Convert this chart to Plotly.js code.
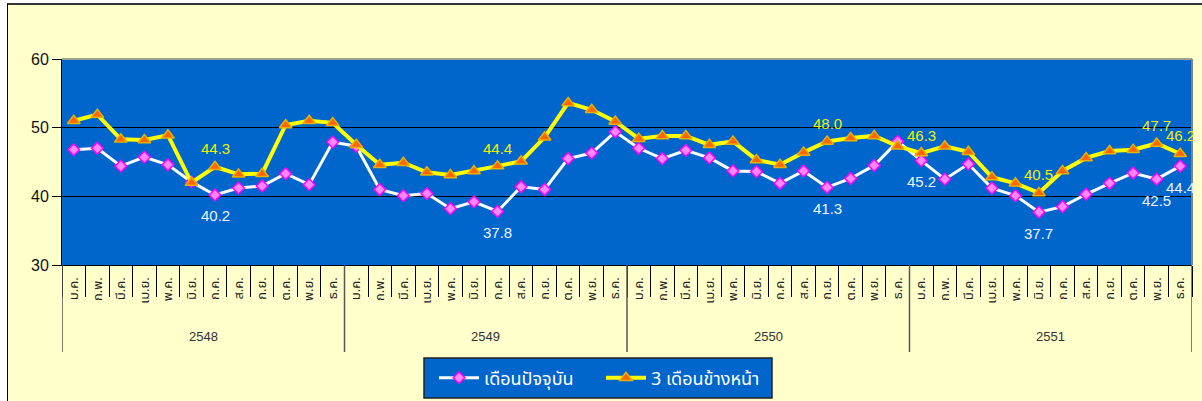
<!DOCTYPE html>
<html><head><meta charset="utf-8">
<script src="https://cdn.plot.ly/plotly-3.0.1.min.js"></script>
<style>
html,body{margin:0;padding:0;background:#fff;overflow:hidden;width:1202px;height:401px;}
#frame{position:absolute;left:7px;top:3px;width:1195px;height:398px;border-left:1px solid #000;border-top:2px solid #333;background:#FFFFCC;box-sizing:border-box;}
#chart{position:absolute;left:0;top:0;width:1194px;height:396px;}
</style></head>
<body>
<div id="frame"><div id="chart"></div></div>
<script>
const months = ['ม.ค.','ก.พ.','มี.ค.','เม.ย.','พ.ค.','มิ.ย.','ก.ค.','ส.ค.','ก.ย.','ต.ค.','พ.ย.','ธ.ค.'];
const years = ['2548','2549','2550','2551'];
const seriesNames = ['เดือนปัจจุบัน','3 เดือนข้างหน้า'];
const current = [46.8,47.0,44.4,45.7,44.6,42.1,40.2,41.2,41.5,43.3,41.7,47.9,
                 47.3,41.0,40.1,40.4,38.2,39.2,37.8,41.4,41.0,45.5,46.3,49.4,
                 47.0,45.5,46.7,45.6,43.7,43.6,41.9,43.7,41.3,42.6,44.5,48.0,
                 45.2,42.5,44.7,41.2,40.1,37.7,38.5,40.3,41.9,43.4,42.5,44.4];
const ahead   = [51.0,51.9,48.3,48.2,48.9,42.0,44.3,43.2,43.3,50.4,51.0,50.7,
                 47.5,44.6,44.9,43.5,43.1,43.7,44.4,45.1,48.6,53.6,52.6,50.9,
                 48.4,48.8,48.8,47.5,48.0,45.3,44.6,46.4,48.0,48.5,48.8,47.3,
                 46.3,47.3,46.5,42.8,41.9,40.5,43.7,45.6,46.6,46.8,47.7,46.2];
const labeledIdx = [6,18,32,36,41,46,47];

const monthLabels = years.flatMap(() => months);
const xs = monthLabels.map((_, i) => i);
const n = xs.length;
const perYear = months.length;

const thaiFont = "Tahoma, 'Noto Sans Thai', 'Leelawadee UI', 'Noto Sans', sans-serif";
const latinFont = "Arial, 'Liberation Sans', sans-serif";

// chart div sits at window (8, 5); plot area window x 62..1192, y 59..265
const L = 54, T = 54, PW = 1130, PH = 206;
const px = wx => (wx - 8 - L) / PW;
const py = wy => 1 - (wy - 5 - T) / PH;

const traces = [
  {x: xs, y: current, name: seriesNames[0], type: 'scatter', mode: 'lines+markers',
   line: {color: '#FFFFFF', width: 3},
   marker: {symbol: 'diamond', size: 9, color: '#FF88FF', line: {color: '#FF00FF', width: 1.5}},
   cliponaxis: false},
  {x: xs, y: ahead, name: seriesNames[1], type: 'scatter', mode: 'lines+markers',
   line: {color: '#FFFF00', width: 4},
   marker: {symbol: 'triangle-up', size: 11, color: '#FF6600', line: {color: '#E8B000', width: 1.5}},
   cliponaxis: false}
];

const shapes = [];
for (let k = 0; k <= years.length; k++) {
  shapes.push({type: 'line', xref: 'x', yref: 'paper', x0: k*perYear - 0.5, x1: k*perYear - 0.5,
               y0: 0, y1: py(352), line: {color: '#555', width: 1.5}});
}
shapes.push({type: 'line', xref: 'paper', yref: 'paper', x0: 0, x1: 1, y0: 1, y1: 1,
             line: {color: '#A0A090', width: 2}, layer: 'above'});
shapes.push({type: 'line', xref: 'paper', yref: 'paper', x0: 1, x1: 1, y0: 0, y1: 1,
             line: {color: '#808080', width: 2}, layer: 'above'});
shapes.push({type: 'rect', xref: 'paper', yref: 'paper', x0: px(424), x1: px(772), y0: py(358), y1: py(398),
             fillcolor: '#0066CC', line: {color: '#222', width: 1.5}, layer: 'above'});

const annotations = [];
years.forEach((yr, k) => {
  annotations.push({x: k*perYear + (perYear-1)/2, y: py(336), xref: 'x', yref: 'paper', yanchor: 'middle',
    text: yr, showarrow: false, font: {family: latinFont, size: 13, color: '#333'}});
});
labeledIdx.forEach(i => {
  annotations.push({x: xs[i], y: current[i], xref: 'x', yref: 'y', text: current[i].toFixed(1),
    showarrow: false, yshift: -21, font: {family: latinFont, size: 15, color: '#EEF2FF'}});
  annotations.push({x: xs[i], y: ahead[i], xref: 'x', yref: 'y', text: ahead[i].toFixed(1),
    showarrow: false, yshift: 18, font: {family: latinFont, size: 15, color: '#F0F000'}});
});

const layout = {
  width: 1194, height: 396,
  margin: {l: L, r: 1194 - L - PW, t: T, b: 396 - T - PH, autoexpand: false},
  paper_bgcolor: '#FFFFCC',
  plot_bgcolor: '#0066CC',
  showlegend: true,
  legend: {orientation: 'h', x: px(434), xanchor: 'left', y: py(378), yanchor: 'middle',
           bgcolor: 'rgba(0,0,0,0)', borderwidth: 0,
           entrywidth: 112, entrywidthmode: 'pixels',
           font: {family: thaiFont, size: 18, color: '#FFFFFF'}, itemwidth: 40},
  xaxis: {
    range: [-0.5, n - 0.5], tickmode: 'array', tickvals: xs, ticktext: monthLabels,
    tickangle: -90, ticks: '', showgrid: false, zeroline: false, automargin: false,
    showline: true, linecolor: '#000', linewidth: 1, ticklabelstandoff: 6,
    tickfont: {family: thaiFont, size: 13, color: '#222'},
    minor: {tickmode: 'array', tickvals: xs.map(i => i - 0.5).concat([n - 0.5]),
            ticks: 'outside', ticklen: 31, tickcolor: '#000', tickwidth: 1, showgrid: false}
  },
  yaxis: {
    range: [30, 60], dtick: 10, tick0: 30, ticks: 'outside', ticklen: 9, tickcolor: '#000',
    showgrid: true, gridcolor: '#000', gridwidth: 1, zeroline: false, automargin: false,
    showline: true, linecolor: '#000', linewidth: 1,
    tickfont: {family: latinFont, size: 16, color: '#111'}
  },
  shapes: shapes,
  annotations: annotations
};

Plotly.newPlot('chart', traces, layout, {displayModeBar: false, staticPlot: true});
</script>
</body></html>
